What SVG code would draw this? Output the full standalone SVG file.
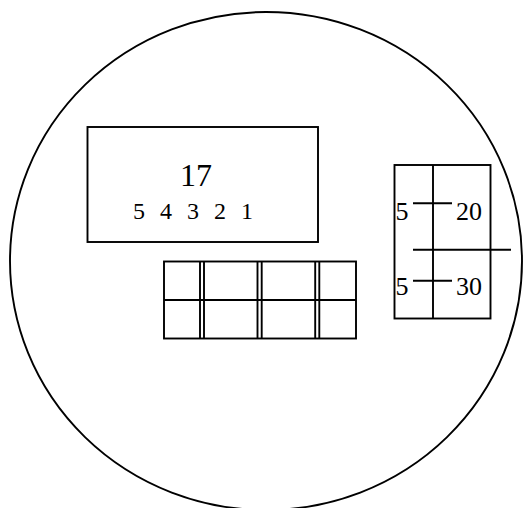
<svg xmlns="http://www.w3.org/2000/svg" width="523" height="508" viewBox="0 0 523 508">
<style>
.s{fill:none;stroke:#000;stroke-width:1.9}
.t{font-family:"Liberation Serif","Times New Roman",serif;fill:#000}
</style>
<rect width="523" height="508" fill="#fff"/>
<g id="circle"><ellipse class="s" cx="266" cy="261" rx="256" ry="249" stroke-width="1.5"/></g>
<g id="box17">
<rect class="s" x="87.5" y="127" width="230.5" height="115"/>
<text class="t" x="196" y="186" font-size="32" text-anchor="middle">17</text>
<text class="t" x="133" y="219" font-size="24" word-spacing="9">5 4 3 2 1</text>
</g>
<g id="grid">
<rect class="s" x="164" y="261.5" width="192" height="77"/>
<line class="s" x1="164" y1="300" x2="356" y2="300"/>
<line class="s" x1="200" y1="261.5" x2="200" y2="338.5"/>
<line class="s" x1="204" y1="261.5" x2="204" y2="338.5"/>
<line class="s" x1="257.5" y1="261.5" x2="257.5" y2="338.5"/>
<line class="s" x1="261.7" y1="261.5" x2="261.7" y2="338.5"/>
<line class="s" x1="315.2" y1="261.5" x2="315.2" y2="338.5"/>
<line class="s" x1="319.3" y1="261.5" x2="319.3" y2="338.5"/>
</g>
<g id="panel">
<rect class="s" x="394.5" y="165" width="96" height="153.5"/>
<line class="s" x1="433" y1="165" x2="433" y2="318.5"/>
<line class="s" x1="413" y1="249.7" x2="511" y2="249.7"/>
<line class="s" x1="413" y1="203.3" x2="452" y2="203.3"/>
<line class="s" x1="413" y1="280.7" x2="452" y2="280.7"/>
<text class="t" x="395.5" y="219.5" font-size="26">5</text>
<text class="t" x="456" y="219.5" font-size="26">20</text>
<text class="t" x="395.5" y="294.5" font-size="26">5</text>
<text class="t" x="456" y="294.5" font-size="26">30</text>
</g>
<g id="connectors"/>
</svg>
